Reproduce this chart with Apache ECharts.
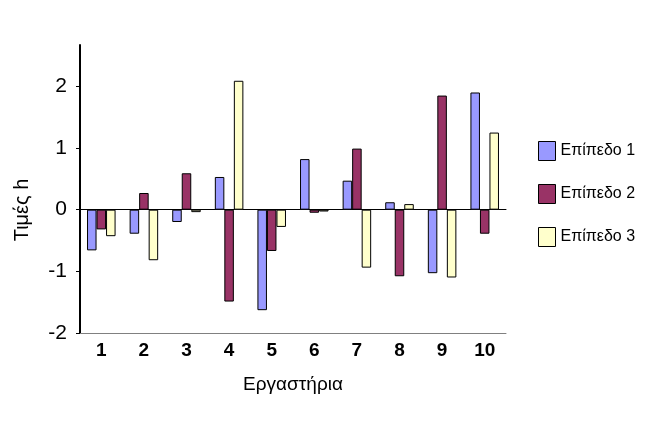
<!DOCTYPE html>
<html>
<head>
<meta charset="utf-8">
<script src="https://cdn.jsdelivr.net/npm/echarts@6/dist/echarts.min.js"></script>
<style>
  html, body { margin: 0; padding: 0; background: #fff; }
  #chart { width: 654px; height: 425px; }
</style>
</head>
<body>
<div id="chart"></div>
<script>
// labs on the x axis
const categories = ['1', '2', '3', '4', '5', '6', '7', '8', '9', '10'];
// h values per level
const level1 = [-0.66, -0.39, -0.20, 0.53, -1.63, 0.82, 0.47, 0.12, -1.03, 1.90];
const level2 = [-0.32, 0.27, 0.59, -1.49, -0.67, -0.05, 0.99, -1.08, 1.85, -0.39];
const level3 = [-0.43, -0.82, -0.04, 2.09, -0.28, -0.03, -0.94, 0.09, -1.10, 1.25];
const yTicks = [-2, -1, 0, 1, 2];

const font = 'Liberation Sans, Arial, sans-serif';

function barSeries(name, data, color) {
  return {
    name: name,
    type: 'bar',
    data: data,
    barGap: 0,
    barCategoryGap: '33%',
    itemStyle: { color: color, borderColor: '#000', borderWidth: 1 }
  };
}

const chart = echarts.init(document.getElementById('chart'));

chart.setOption({
  backgroundColor: '#fff',
  animation: false,
  textStyle: { fontFamily: font },
  grid: { left: 80, right: 148, top: 45, bottom: 92 },
  legend: {
    orient: 'vertical',
    left: 533,
    top: 136,
    itemWidth: 17,
    itemHeight: 19,
    itemGap: 23,
    icon: 'rect',
    itemStyle: { borderColor: '#000', borderWidth: 1 },
    textStyle: { fontFamily: font, fontSize: 16, color: '#000' }
  },
  xAxis: [
    {
      type: 'category',
      data: categories,
      position: 'bottom',
      axisLine: { onZero: false, lineStyle: { color: '#808080', width: 1 } },
      axisTick: { show: false },
      axisLabel: { color: '#000', fontSize: 19, fontWeight: 'bold', margin: 8 },
      name: 'Εργαστήρια',
      nameLocation: 'middle',
      nameGap: 42,
      nameTextStyle: { color: '#000', fontSize: 19 }
    },
    {
      // the zero line
      type: 'category',
      data: categories,
      position: 'top',
      axisLine: { onZero: true, lineStyle: { color: '#000', width: 1 } },
      axisTick: { show: false },
      axisLabel: { show: false }
    }
  ],
  yAxis: {
    type: 'value',
    min: -2,
    max: 2.67,
    axisLine: { show: true, lineStyle: { color: '#000', width: 2 } },
    axisTick: { show: true, length: 4, customValues: yTicks, lineStyle: { color: '#000' } },
    axisLabel: { color: '#000', fontSize: 21, margin: 13, customValues: yTicks },
    splitLine: { show: false },
    name: 'Τιμές h',
    nameLocation: 'middle',
    nameGap: 48,
    nameTextStyle: { color: '#000', fontSize: 20, padding: [0, 42, 0, 0] }
  },
  series: [
    barSeries('Επίπεδο 1', level1, '#9999FF'),
    barSeries('Επίπεδο 2', level2, '#993366'),
    barSeries('Επίπεδο 3', level3, '#FFFFCC')
  ]
});
</script>
</body>
</html>
